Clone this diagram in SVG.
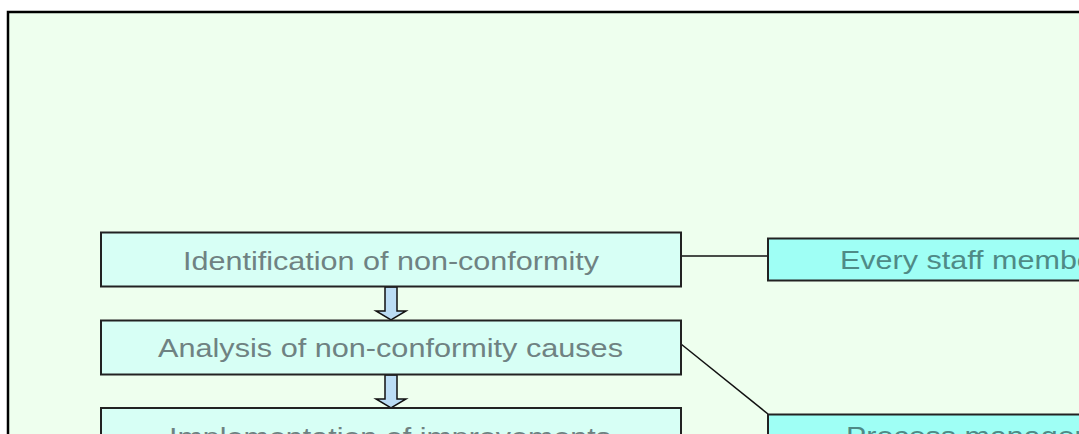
<svg xmlns="http://www.w3.org/2000/svg" width="1079" height="434" viewBox="0 0 1079 434">
  <style>
    .step { fill: #D7FFF5; stroke: #222; stroke-width: 2; }
    .role { fill: #9FFFF5; stroke: #222; stroke-width: 2; }
    .stepText { font-family: "Liberation Sans", Arial, sans-serif; font-size: 26px; fill: #6F8282; }
    .roleText { font-family: "Liberation Sans", Arial, sans-serif; font-size: 26px; fill: #4F8A86; }
    .conn { stroke: #111; stroke-width: 1.5; fill: none; }
    .arrow { fill: #BBDDF5; stroke: #111; stroke-width: 1.5; }
  </style>
  <rect x="0" y="0" width="1079" height="434" fill="#FFFFFF"/>
  <rect x="8" y="12" width="1100" height="450" fill="#EEFFEE" stroke="#000" stroke-width="2.5"/>

  <g id="connectors">
    <line class="conn" x1="681" y1="256" x2="768" y2="256"/>
    <line class="conn" x1="681" y1="344" x2="768" y2="414"/>
    <path class="arrow" d="M385,287 L397,287 L397,311 L406,311 L391,320 L376,311 L385,311 Z"/>
    <path class="arrow" d="M385,375 L397,375 L397,399 L406,399 L391,408 L376,399 L385,399 Z"/>
  </g>

  <g id="step1">
    <rect class="step" x="101" y="232.5" width="580" height="54"/>
    <text class="stepText" x="183" y="270" textLength="416" lengthAdjust="spacingAndGlyphs">Identification of non-conformity</text>
  </g>
  <g id="step2">
    <rect class="step" x="101" y="320.5" width="580" height="54"/>
    <text class="stepText" x="158" y="357" textLength="465" lengthAdjust="spacingAndGlyphs">Analysis of non-conformity causes</text>
  </g>
  <g id="step3">
    <rect class="step" x="101" y="408" width="580" height="54"/>
    <text class="stepText" x="169" y="446" textLength="442" lengthAdjust="spacingAndGlyphs">Implementation of improvements</text>
  </g>
  <g id="role1">
    <rect class="role" x="768" y="238.5" width="410" height="42"/>
    <text class="roleText" x="840" y="269" textLength="264" lengthAdjust="spacingAndGlyphs">Every staff member</text>
  </g>
  <g id="role2">
    <rect class="role" x="768" y="414.5" width="410" height="42"/>
    <text class="roleText" x="846" y="445" textLength="254" lengthAdjust="spacingAndGlyphs">Process managers</text>
  </g>
</svg>
